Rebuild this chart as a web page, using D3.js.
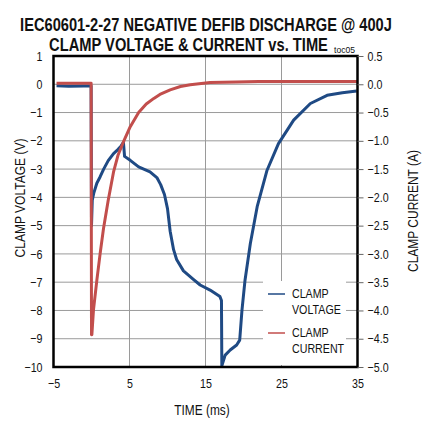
<!DOCTYPE html>
<html>
<head>
<meta charset="utf-8">
<script src="https://cdn.jsdelivr.net/npm/d3@7"></script>
<style>
  html, body { margin: 0; padding: 0; background: #fff; }
  svg { display: block; }
  text { font-family: 'Liberation Sans', Arial, sans-serif; fill: #111; }
</style>
</head>
<body>
<svg id="chart" width="425" height="423"></svg>
<script>
// ---- Data ----
const xTicks = [-5, 5, 15, 25, 35];
const voltTicks = [1, 0, -1, -2, -3, -4, -5, -6, -7, -8, -9, -10];
const currTicks = [0.5, 0.0, -0.5, -1.0, -1.5, -2.0, -2.5, -3.0, -3.5, -4.0, -4.5, -5.0];

// Clamp voltage (V) vs time (ms)
const voltTime = [-4.6, -3, -1, -0.05, 0.0, 0.1, 0.3, 0.7, 1.14, 1.6, 2.2, 2.9, 3.5, 3.9, 4.2, 4.35, 5.1, 6.2, 7.7, 8.6, 9.1, 9.6, 10.0, 10.35, 10.8, 11.2, 12.1, 13.4, 14.3, 15.6, 16.9, 17.1, 17.15, 17.59, 18.25, 19.1, 19.5, 19.8, 20.2, 20.9, 21.8, 23.1, 24.6, 26.6, 28.8, 31.0, 33.0, 34.9];
const voltVals = [-0.05, -0.07, -0.06, -0.06, -5.0, -4.1, -3.85, -3.5, -3.27, -3.0, -2.7, -2.45, -2.3, -2.18, -2.05, -2.55, -2.69, -2.92, -3.1, -3.3, -3.55, -3.9, -4.4, -5.2, -5.85, -6.2, -6.6, -6.9, -7.1, -7.28, -7.51, -7.65, -9.96, -9.58, -9.4, -9.22, -9.05, -7.99, -6.93, -5.63, -4.33, -3.04, -2.1, -1.27, -0.68, -0.39, -0.3, -0.24];

// Clamp current (A) vs time (ms)
const currTime = [-4.6, -2, -0.05, 0.0, 0.05, 0.26, 0.71, 1.14, 1.58, 2.2, 2.9, 3.5, 4.2, 5.1, 6.2, 7.2, 8.2, 9.0, 10.35, 11.7, 13, 15.6, 19, 22, 28, 35];
const currVals = [0.02, 0.02, 0.02, -4.43, -4.43, -3.99, -3.46, -2.99, -2.55, -2.05, -1.55, -1.25, -1.02, -0.75, -0.5, -0.35, -0.25, -0.18, -0.1, -0.04, -0.01, 0.03, 0.04, 0.05, 0.05, 0.05];

const seriesNames = ["CLAMP VOLTAGE", "CLAMP CURRENT"];
const colors = ["#1f4a84", "#c24e4c"];

// ---- Layout ----
const svg = d3.select("#chart");
const L = 53.5, R = 357.5, T = 56, B = 367;

const x = d3.scaleLinear().domain([-5, 35]).range([L, R]);
const yV = d3.scaleLinear().domain([-10, 1]).range([B, T]);
const yI = d3.scaleLinear().domain([-5, 0.5]).range([B, T]);

// Gridlines
const grid = svg.append("g");
grid.selectAll("line.h").data(voltTicks.filter(d => d > -10 && d < 1)).enter()
  .append("line").attr("x1", L).attr("x2", R)
  .attr("y1", d => yV(d)).attr("y2", d => yV(d))
  .attr("stroke", "#9a9a9a").attr("stroke-width", 1);
grid.selectAll("line.v").data(xTicks.filter(d => d > -5 && d < 35)).enter()
  .append("line").attr("y1", T).attr("y2", B)
  .attr("x1", d => x(d)).attr("x2", d => x(d))
  .attr("stroke", "#9a9a9a").attr("stroke-width", 1);

// Series
svg.append("clipPath").attr("id", "clip").append("rect")
  .attr("x", L).attr("y", T).attr("width", R - L).attr("height", B - T);

const vLine = d3.line().x((d, i) => x(voltTime[i])).y(d => yV(d));
const iLine = d3.line().x((d, i) => x(currTime[i])).y(d => yI(d));

svg.append("path").attr("d", vLine(voltVals)).attr("fill", "none")
  .attr("stroke", colors[0]).attr("stroke-width", 3).attr("stroke-linejoin", "round")
  .attr("clip-path", "url(#clip)");
svg.append("path").attr("d", iLine(currVals)).attr("fill", "none")
  .attr("stroke", colors[1]).attr("stroke-width", 3).attr("stroke-linejoin", "round")
  .attr("clip-path", "url(#clip)");

// Legend
const lg = svg.append("g");
lg.append("rect").attr("x", 263).attr("y", 281).attr("width", 83).attr("height", 84).attr("fill", "#fff");
const legendRows = [[294, 298, 314], [333, 337, 353]];
seriesNames.forEach((name, k) => {
  const [ly, t1, t2] = legendRows[k];
  lg.append("line").attr("x1", 268).attr("x2", 285).attr("y1", ly).attr("y2", ly)
    .attr("stroke", colors[k]).attr("stroke-width", 1.5);
  const parts = name.split(" ");
  lg.append("text").attr("class", "narrow").attr("x", 292).attr("y", t1).attr("font-size", 13).text(parts[0]);
  lg.append("text").attr("class", "narrow").attr("x", 292).attr("y", t2).attr("font-size", 13).text(parts[1]);
});

// Frame
svg.append("rect").attr("x", L).attr("y", T).attr("width", R - L).attr("height", B - T)
  .attr("fill", "none").attr("stroke", "#000").attr("stroke-width", 2.5);

// Axes
const axL = d3.axisLeft(yV).tickValues(voltTicks).tickSize(0).tickPadding(11).tickFormat(d3.format("d"));
const gL = svg.append("g").attr("transform", `translate(${L},0)`).call(axL);
gL.select(".domain").remove();

const axR = d3.axisRight(yI).tickValues(currTicks).tickSize(6).tickPadding(4).tickFormat(d3.format(".1f"));
const gR = svg.append("g").attr("transform", `translate(${R},0)`).call(axR);
gR.select(".domain").remove();
gR.selectAll(".tick line").attr("stroke", "#666");

const axB = d3.axisBottom(x).tickValues(xTicks).tickSize(0).tickPadding(12).tickFormat(d3.format("d"));
const gB = svg.append("g").attr("transform", `translate(0,${B})`).call(axB);
gB.select(".domain").remove();

svg.selectAll(".tick text").attr("font-size", 13).attr("class", "narrow")
  .attr("font-family", "'Liberation Sans', Arial, sans-serif")
  .attr("fill", "#111");
gL.selectAll(".tick text").attr("dy", "0.32em");

// Titles: drawn at origin, then horizontally condensed to the measured width
function fitText(sel, cx, y, width, anchor) {
  const w = sel.node().getComputedTextLength();
  const s = width / w;
  sel.attr("x", 0).attr("y", 0).attr("text-anchor", anchor)
    .attr("transform", `translate(${cx},${y}) scale(${s.toFixed(4)},1)`);
}
fitText(svg.append("text").attr("font-size", 18.5).attr("font-weight", "bold")
  .text("IEC60601-2-27 NEGATIVE DEFIB DISCHARGE @ 400J"), 206, 31, 372, "middle");
fitText(svg.append("text").attr("font-size", 18.5).attr("font-weight", "bold")
  .text("CLAMP VOLTAGE & CURRENT vs. TIME"), 188.5, 50.5, 279, "middle");
fitText(svg.append("text").attr("font-size", 8.5).text("toc05"), 334, 53, 21, "start");

svg.append("text").attr("class", "narrow").attr("x", 202).attr("y", 415).attr("text-anchor", "middle")
  .attr("font-size", 14.5).text("TIME (ms)");
svg.append("text").attr("transform", "translate(25,198) rotate(-90)").attr("text-anchor", "middle")
  .attr("font-size", 14.5).attr("textLength", 119).attr("lengthAdjust", "spacingAndGlyphs")
  .text("CLAMP VOLTAGE (V)");
svg.append("text").attr("transform", "translate(418,211) rotate(-90)").attr("text-anchor", "middle")
  .attr("font-size", 14.5).attr("textLength", 122).attr("lengthAdjust", "spacingAndGlyphs")
  .text("CLAMP CURRENT (A)");

// Emulate the condensed typeface of the original
svg.selectAll("text.narrow").each(function () {
  const w = this.getComputedTextLength();
  d3.select(this).attr("textLength", (w * 0.82).toFixed(1)).attr("lengthAdjust", "spacingAndGlyphs");
});
</script>
</body>
</html>
